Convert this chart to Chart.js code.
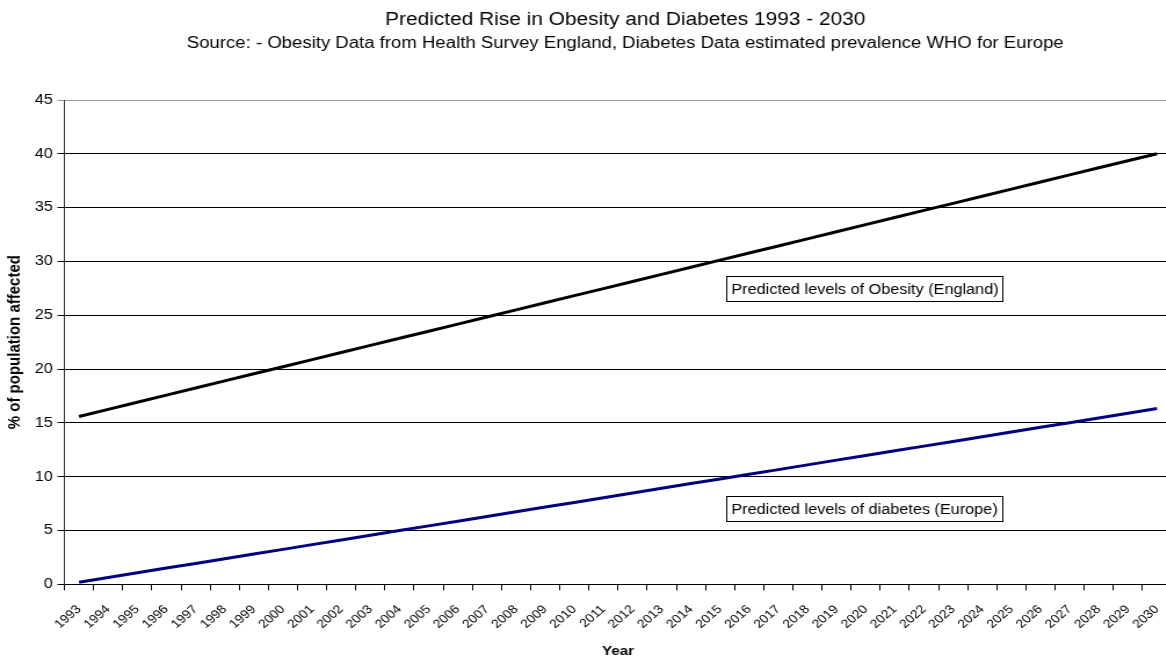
<!DOCTYPE html>
<html>
<head>
<meta charset="utf-8">
<script src="https://cdn.jsdelivr.net/npm/chart.js@4.4.1/dist/chart.umd.min.js"></script>
<style>
  html, body { margin: 0; padding: 0; background: #fff; overflow: hidden; width: 1166px; height: 659px; }
  /* the source picture is a horizontally stretched spreadsheet chart */
  #wrap { width: 1078px; height: 659px; position: relative; transform: scaleX(1.16); transform-origin: 0 0; }
</style>
</head>
<body>
<div id="wrap"><canvas id="chart"></canvas></div>
<script>
const years = ['1993','1994','1995','1996','1997','1998','1999','2000','2001','2002',
  '2003','2004','2005','2006','2007','2008','2009','2010','2011','2012',
  '2013','2014','2015','2016','2017','2018','2019','2020','2021','2022',
  '2023','2024','2025','2026','2027','2028','2029','2030'];

// % obese, England (predicted)
const obesity = [15.6,16.26,16.92,17.58,18.24,18.9,19.56,20.22,20.88,21.54,
  22.2,22.86,23.52,24.18,24.84,25.5,26.16,26.82,27.48,28.14,
  28.8,29.46,30.12,30.78,31.44,32.1,32.76,33.42,34.08,34.74,
  35.4,36.06,36.72,37.38,38.04,38.7,39.36,40.0];

// % with diabetes, Europe (predicted)
const diabetes = [0.2,0.64,1.07,1.51,1.94,2.38,2.82,3.25,3.69,4.12,
  4.56,5.0,5.43,5.87,6.3,6.74,7.18,7.61,8.05,8.48,
  8.92,9.36,9.79,10.23,10.66,11.1,11.54,11.97,12.41,12.84,
  13.28,13.72,14.15,14.59,15.02,15.46,15.9,16.33];

const yTicks = [0,5,10,15,20,25,30,35,40,45];

const titleText = 'Predicted Rise in Obesity and Diabetes 1993 - 2030';
const subtitleText = 'Source: - Obesity Data from Health Survey England, Diabetes Data estimated prevalence WHO for Europe';

// text boxes: label, category index of left edge, value at box middle
const noteLabels = ['Predicted levels of Obesity (England)', 'Predicted levels of diabetes (Europe)'];
const noteX = [22.2, 22.2];
const noteY = [27.45, 7.0];

const FONT = "Arial, 'Liberation Sans', sans-serif";

// heading centred on the whole (wider than the window) chart
const headingPlugin = {
  id: 'heading',
  afterDraw(chart) {
    const ctx = chart.ctx;
    const cx = chart.width / 2;
    ctx.save();
    ctx.fillStyle = '#000';
    ctx.textAlign = 'center';
    ctx.textBaseline = 'middle';
    ctx.font = '18px ' + FONT;
    ctx.fillText(titleText, cx, 20);
    ctx.font = '16px ' + FONT;
    ctx.fillText(subtitleText, cx, 44);
    ctx.restore();
  }
};

const notesPlugin = {
  id: 'notes',
  afterDatasetsDraw(chart) {
    const ctx = chart.ctx;
    const xs = chart.scales.x, ys = chart.scales.y;
    const step = xs.getPixelForValue(1) - xs.getPixelForValue(0);
    ctx.save();
    ctx.font = '14px ' + FONT;
    ctx.textBaseline = 'middle';
    noteLabels.forEach((txt, i) => {
      const left = Math.round(xs.getPixelForValue(0) + noteX[i] * step) + 0.5;
      const mid = ys.getPixelForValue(noteY[i]);
      const w = Math.round(ctx.measureText(txt).width + 8);
      const h = 25;
      const top = Math.round(mid - h / 2) + 0.5;
      ctx.fillStyle = '#fff';
      ctx.fillRect(left, top, w, h);
      ctx.strokeStyle = '#000';
      ctx.lineWidth = 1;
      ctx.strokeRect(left, top, w, h);
      ctx.fillStyle = '#000';
      ctx.fillText(txt, left + 4, mid + 1);
    });
    ctx.restore();
  }
};

new Chart(document.getElementById('chart'), {
  type: 'line',
  data: {
    labels: years,
    datasets: [
      { label: 'Obesity (England)', data: obesity, borderColor: '#000', borderWidth: 3, pointRadius: 0, tension: 0 },
      { label: 'Diabetes (Europe)', data: diabetes, borderColor: '#000080', borderWidth: 3, pointRadius: 0, tension: 0 }
    ]
  },
  options: {
    responsive: true,
    maintainAspectRatio: false,
    animation: false,
    layout: { padding: { top: 100, left: 4, right: 68, bottom: 0 } },
    plugins: {
      legend: { display: false },
      tooltip: { enabled: false },
      title: { display: false },
      subtitle: { display: false }
    },
    scales: {
      x: {
        type: 'category',
        offset: true,
        grid: { display: true, drawOnChartArea: false, offset: true, color: '#000', tickLength: 6 },
        border: { color: '#000', width: 1 },
        ticks: {
          autoSkip: false, maxRotation: 45, minRotation: 45, color: '#000', padding: 12,
          font: { family: FONT, size: 12 }
        },
        title: { display: true, text: 'Year', color: '#000', font: { family: FONT, size: 13, weight: 'bold' }, padding: { top: 0, bottom: 0 } }
      },
      y: {
        min: 0,
        max: 45,
        afterBuildTicks(scale) { scale.ticks = yTicks.map(v => ({ value: v })); },
        grid: {
          color: c => (c.tick && c.tick.value === 45) ? '#999' : '#000',
          tickLength: 6
        },
        border: { color: '#333', width: 1 },
        ticks: { color: '#000', padding: 4, font: { family: FONT, size: 14 } },
        title: { display: true, text: '% of population affected', color: '#000', font: { family: FONT, size: 15, weight: 'bold' }, padding: { top: 0, bottom: 4 } }
      }
    }
  },
  plugins: [notesPlugin, headingPlugin]
});
</script>
</body>
</html>
